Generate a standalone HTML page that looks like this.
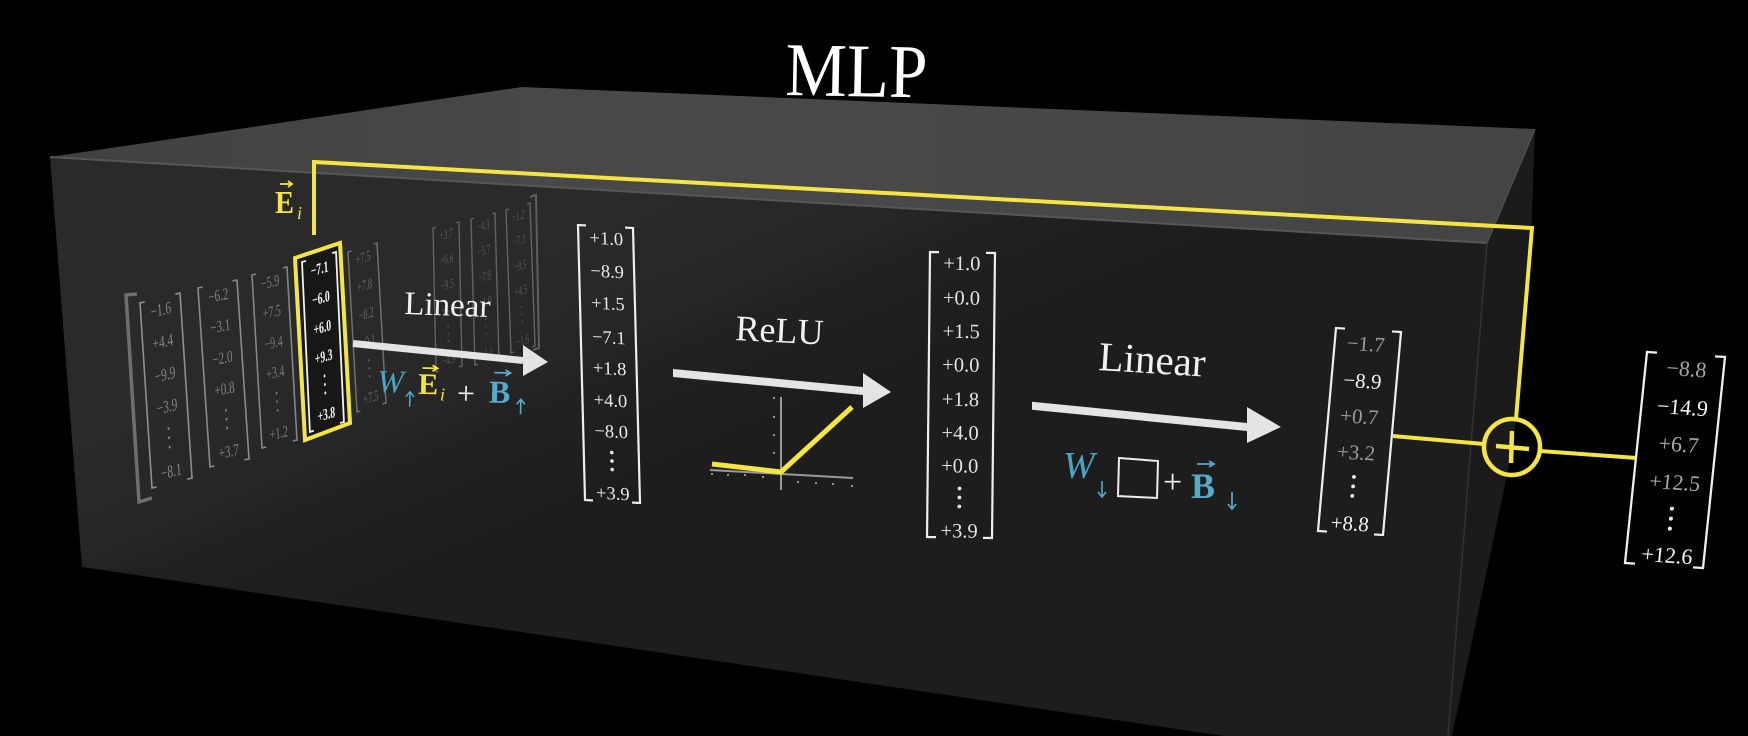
<!DOCTYPE html>
<html><head><meta charset="utf-8">
<style>
html,body{margin:0;padding:0;background:#000;}
svg{display:block;}
text{font-family:"Liberation Serif",serif;}
</style></head>
<body>
<svg width="1748" height="736" viewBox="0 0 1748 736" xmlns="http://www.w3.org/2000/svg">
<defs>
<linearGradient id="front" gradientUnits="userSpaceOnUse" x1="250" y1="360" x2="350" y2="600">
<stop offset="0" stop-color="#2a2a2a"/>
<stop offset="0.45" stop-color="#262626"/>
<stop offset="0.6" stop-color="#212121"/>
<stop offset="1" stop-color="#1d1d1d"/>
</linearGradient>
<linearGradient id="top" gradientUnits="userSpaceOnUse" x1="50" y1="157" x2="1535" y2="129">
<stop offset="0" stop-color="#414141"/>
<stop offset="0.4" stop-color="#494949"/>
<stop offset="1" stop-color="#444444"/>
</linearGradient>
</defs>
<rect width="1748" height="736" fill="#000"/>

<!-- Box -->
<polygon points="50,157 522,87 1535,129 1487,243" fill="url(#top)"/>
<polygon points="1487,243 1535,129 1531,240 1516,420 1507,475 1452,736 1448,736" fill="#1b1b1b"/>
<polygon points="50,157 1487,243 1448,736 1224,736 82,567" fill="url(#front)"/>
<line x1="50" y1="157" x2="1487" y2="243" stroke="#565656" stroke-width="2"/>
<line x1="1487" y1="243" x2="1448" y2="736" stroke="#333" stroke-width="1.5"/>
<line x1="1487" y1="243" x2="1535" y2="129" stroke="#4e4e4e" stroke-width="1.5"/>

<!-- Title -->
<text x="785" y="95" font-size="76" fill="#fff" textLength="142" lengthAdjust="spacingAndGlyphs" transform="rotate(1 785 95)">MLP</text>

<!-- Outer matrix brackets -->
<path d="M137,294 L126,295 L139,502 L152,498" fill="none" stroke="#6e6e6e" stroke-width="3.5"/>
<path d="M530,197 L536,195 L539,348 L533,350" fill="none" stroke="#5e5e5e" stroke-width="2"/>

<!-- col1 -->
<g transform="matrix(0.667,-0.1667,0.0667,1.028,140,303)" fill="#858585" font-size="17" text-anchor="middle">
<path d="M7,0H0V180H7M53,0H60V180H53" fill="none" stroke="#909090" stroke-width="1.6" vector-effect="non-scaling-stroke"/>
<text x="30" y="17">−1.6</text><text x="30" y="48">+4.4</text><text x="30" y="80">−9.9</text><text x="30" y="111">−3.9</text>
<circle cx="30" cy="127" r="1.5"/><circle cx="30" cy="136" r="1.5"/><circle cx="30" cy="145" r="1.5"/>
<text x="30" y="174">−8.1</text>
</g>
<!-- col2 -->
<g transform="matrix(0.65,-0.1333,0.0667,0.994,198,288)" fill="#808080" font-size="17" text-anchor="middle">
<path d="M7,0H0V180H7M53,0H60V180H53" fill="none" stroke="#8a8a8a" stroke-width="1.6" vector-effect="non-scaling-stroke"/>
<text x="30" y="17">−6.2</text><text x="30" y="48">−3.1</text><text x="30" y="80">−2.0</text><text x="30" y="111">+0.8</text>
<circle cx="30" cy="127" r="1.5"/><circle cx="30" cy="136" r="1.5"/><circle cx="30" cy="145" r="1.5"/>
<text x="30" y="174">+3.7</text>
</g>
<!-- col3 -->
<g transform="matrix(0.583,-0.1333,0.0556,0.961,252,275)" fill="#7a7a7a" font-size="17" text-anchor="middle">
<path d="M7,0H0V180H7M53,0H60V180H53" fill="none" stroke="#858585" stroke-width="1.6" vector-effect="non-scaling-stroke"/>
<text x="30" y="17">−5.9</text><text x="30" y="48">+7.5</text><text x="30" y="80">−9.4</text><text x="30" y="111">+3.4</text>
<circle cx="30" cy="127" r="1.5"/><circle cx="30" cy="136" r="1.5"/><circle cx="30" cy="145" r="1.5"/>
<text x="30" y="174">+1.2</text>
</g>
<!-- col4 highlighted -->
<polygon points="295,258 340,243 350,423 305,440" fill="#171717" stroke="#f4e545" stroke-width="4"/>
<g transform="matrix(0.567,-0.167,0.044,0.944,302,262)" fill="#f4f4f4" font-size="17" font-weight="bold" text-anchor="middle">
<path d="M7,0H0V180H7M53,0H60V180H53" fill="none" stroke="#f0f0f0" stroke-width="1.8" vector-effect="non-scaling-stroke"/>
<text x="30" y="18">−7.1</text><text x="30" y="49">−6.0</text><text x="30" y="80">+6.0</text><text x="30" y="111">+9.3</text>
<circle cx="30" cy="126" r="1.6"/><circle cx="30" cy="135" r="1.6"/><circle cx="30" cy="144" r="1.6"/>
<text x="30" y="172">+3.8</text>
</g>
<!-- col5 -->
<g transform="matrix(0.483,-0.15,0.05,0.889,348,252)" fill="#666" font-size="17" text-anchor="middle">
<path d="M7,0H0V180H7M53,0H60V180H53" fill="none" stroke="#6e6e6e" stroke-width="1.5" vector-effect="non-scaling-stroke"/>
<text x="30" y="17">+7.5</text><text x="30" y="48">+7.8</text><text x="30" y="80">−8.2</text><text x="30" y="111">−0.1</text>
<circle cx="30" cy="127" r="1.5"/><circle cx="30" cy="136" r="1.5"/><circle cx="30" cy="145" r="1.5"/>
<text x="30" y="174">+7.5</text>
</g>
<!-- col6 -->
<g transform="matrix(0.433,-0.1,0.0167,0.8,433,228)" fill="#5a5a5a" font-size="17" text-anchor="middle">
<path d="M7,0H0V180H7M53,0H60V180H53" fill="none" stroke="#626262" stroke-width="1.4" vector-effect="non-scaling-stroke"/>
<text x="30" y="17">+3.7</text><text x="30" y="48">+6.6</text><text x="30" y="80">−9.5</text><text x="30" y="111">+4.0</text>
<circle cx="30" cy="127" r="1.5"/><circle cx="30" cy="136" r="1.5"/><circle cx="30" cy="145" r="1.5"/>
<text x="30" y="174">−4.9</text>
</g>
<!-- col7 -->
<g transform="matrix(0.4,-0.1,0.022,0.811,471,219)" fill="#5a5a5a" font-size="17" text-anchor="middle">
<path d="M7,0H0V180H7M53,0H60V180H53" fill="none" stroke="#626262" stroke-width="1.4" vector-effect="non-scaling-stroke"/>
<text x="30" y="17">−4.3</text><text x="30" y="48">−5.7</text><text x="30" y="80">−7.9</text><text x="30" y="111">+1.0</text>
<circle cx="30" cy="127" r="1.5"/><circle cx="30" cy="136" r="1.5"/><circle cx="30" cy="145" r="1.5"/>
<text x="30" y="174">−1.1</text>
</g>
<!-- col8 -->
<g transform="matrix(0.4,-0.1167,0.0278,0.794,506,210)" fill="#5a5a5a" font-size="17" text-anchor="middle">
<path d="M7,0H0V180H7M53,0H60V180H53" fill="none" stroke="#626262" stroke-width="1.4" vector-effect="non-scaling-stroke"/>
<text x="30" y="17">−1.2</text><text x="30" y="48">−7.3</text><text x="30" y="80">−9.5</text><text x="30" y="111">+4.5</text>
<circle cx="30" cy="127" r="1.5"/><circle cx="30" cy="136" r="1.5"/><circle cx="30" cy="145" r="1.5"/>
<text x="30" y="174">−1.6</text>
</g>

<!-- Yellow residual connector -->
<polyline points="314,235 314,162 1532,228 1516,419" fill="none" stroke="#f4e545" stroke-width="4" stroke-linejoin="miter"/>
<text x="275" y="213" font-size="32" font-weight="bold" fill="#f4e545" textLength="19" lengthAdjust="spacingAndGlyphs">E</text>
<path d="M280,184 H291 M288,181 L292,184 L288,187" stroke="#f4e545" stroke-width="1.8" fill="none"/>
<text x="297" y="219" font-size="18" font-style="italic" fill="#f4e545">i</text>

<!-- Linear 1 -->
<text x="404" y="314" font-size="33" fill="#f2f2f2" transform="rotate(2 404 314)">Linear</text>
<polygon points="353.4,340 523.4,357 522.6,364 352.6,347" fill="#e4e4e4"/>
<polygon points="523,345 548,362 523,376" fill="#e4e4e4"/>
<g transform="rotate(1.3 377 392)">
<text x="377" y="392" font-size="32" font-style="italic" fill="#4fa3c3">W</text>
<path d="M410,406 V392 M406,396 L410,391 L414,396" stroke="#4fa3c3" stroke-width="1.6" fill="none"/>
<text x="418" y="393" font-size="30" font-weight="bold" fill="#f4e545">E</text>
<path d="M422,367 H436 M432,364 L437,367 L432,370" stroke="#f4e545" stroke-width="1.8" fill="none"/>
<text x="440" y="399" font-size="18" font-style="italic" fill="#f4e545">i</text>
<text x="457" y="402" font-size="32" fill="#f2f2f2">+</text>
<text x="489" y="400" font-size="32" font-weight="bold" fill="#58aacb">B</text>
<path d="M494,370 H509 M505,367 L510,370 L505,373" stroke="#58aacb" stroke-width="1.8" fill="none"/>
<path d="M521,411 V397 M517,401 L521,396 L525,401" stroke="#58aacb" stroke-width="1.6" fill="none"/>
</g>

<!-- Vector 2 -->
<g transform="matrix(1,0.0545,0.0255,1,578,225)" fill="#e8e8e8" font-size="18.5" text-anchor="middle">
<path d="M8,0H0V275H8M47,0H55V275H47" fill="none" stroke="#eee" stroke-width="2.2"/>
<text x="28" y="18">+1.0</text><text x="28" y="51">−8.9</text><text x="28" y="83">+1.5</text><text x="28" y="117">−7.1</text>
<text x="28" y="148">+1.8</text><text x="28" y="180">+4.0</text><text x="28" y="211">−8.0</text>
<circle cx="28" cy="226" r="1.8"/><circle cx="28" cy="234.5" r="1.8"/><circle cx="28" cy="243" r="1.8"/>
<text x="28" y="273">+3.9</text>
</g>

<!-- ReLU -->
<text x="735" y="340" font-size="36" fill="#f2f2f2" transform="rotate(3 735 340)">ReLU</text>
<polygon points="673,369 863,387 863,395 673,377" fill="#e4e4e4"/>
<polygon points="863,373 891,392 863,408" fill="#e4e4e4"/>
<line x1="781" y1="397" x2="781" y2="490" stroke="#9a9a9a" stroke-width="2"/>
<line x1="710" y1="470" x2="853" y2="478" stroke="#9a9a9a" stroke-width="2"/>
<g fill="#bbb">
<circle cx="712" cy="474" r="1"/><circle cx="728" cy="475" r="1"/><circle cx="745" cy="475" r="1"/><circle cx="763" cy="477" r="1"/>
<circle cx="798" cy="482" r="1"/><circle cx="816" cy="483" r="1"/><circle cx="833" cy="484" r="1"/><circle cx="852" cy="486" r="1"/>
<circle cx="774" cy="398" r="1"/><circle cx="774" cy="417" r="1"/><circle cx="774" cy="435" r="1"/><circle cx="774" cy="453" r="1"/>
</g>
<polyline points="712,464 781,472 852,407" fill="none" stroke="#f4e545" stroke-width="5"/>

<!-- Vector 3 -->
<g transform="matrix(1,0.0154,-0.0105,1,930,252)" fill="#e4e4e4" font-size="20.5" text-anchor="middle">
<path d="M9,0H0V285H9M56,0H65V285H56" fill="none" stroke="#eee" stroke-width="2.2"/>
<text x="32" y="17.5">+1.0</text><text x="32" y="52">+0.0</text><text x="32" y="85.5">+1.5</text><text x="32" y="119">+0.0</text>
<text x="32" y="153.5">+1.8</text><text x="32" y="187">+4.0</text><text x="32" y="220">+0.0</text>
<circle cx="32" cy="236" r="1.9"/><circle cx="32" cy="245" r="1.9"/><circle cx="32" cy="254" r="1.9"/>
<text x="32" y="285">+3.9</text>
</g>

<!-- Linear 2 -->
<text x="1098" y="370" font-size="41" fill="#f2f2f2" transform="rotate(3.5 1098 370)">Linear</text>
<polygon points="1032,401.7 1247,423 1247,431 1032,409.7" fill="#e4e4e4"/>
<polygon points="1247,407 1281,427 1247,443" fill="#e4e4e4"/>
<text x="1063" y="478" font-size="38" font-style="italic" fill="#4fa3c3">W</text>
<path d="M1102,481 V496 M1098,492 L1102,497 L1106,492" stroke="#4fa3c3" stroke-width="1.7" fill="none"/>
<path d="M1119,458 L1158,461 L1157,498 L1118,496 Z" fill="none" stroke="#eee" stroke-width="2"/>
<text x="1163" y="493" font-size="34" fill="#f2f2f2">+</text>
<text x="1191" y="498" font-size="36" font-weight="bold" fill="#58aacb">B</text>
<path d="M1197,464 H1213 M1209,461 L1214,464 L1209,467" stroke="#58aacb" stroke-width="1.8" fill="none"/>
<path d="M1232,492 V508 M1228,504 L1232,509 L1236,504" stroke="#58aacb" stroke-width="1.7" fill="none"/>

<!-- Vector 4 -->
<g transform="matrix(1,0.0615,-0.0887,1,1336,328)" font-size="21" text-anchor="middle">
<path d="M9,0H0V203H9M56,0H65V203H56" fill="none" stroke="#eee" stroke-width="2.2"/>
<text x="31" y="21" fill="#9a9a9a">−1.7</text>
<text x="31" y="58" fill="#f2f2f2">−8.9</text>
<text x="31" y="93.5" fill="#9a9a9a">+0.7</text>
<text x="31" y="129.5" fill="#9a9a9a">+3.2</text>
<g fill="#eee"><circle cx="31" cy="147" r="1.9"/><circle cx="31" cy="156.5" r="1.9"/><circle cx="31" cy="166" r="1.9"/></g>
<text x="31" y="200.5" fill="#f2f2f2">+8.8</text>
</g>

<!-- sum -->
<line x1="1393" y1="436" x2="1484" y2="444" stroke="#f4e545" stroke-width="4"/>
<line x1="1540" y1="451" x2="1637" y2="458" stroke="#f4e545" stroke-width="4"/>
<circle cx="1512" cy="447" r="28" fill="none" stroke="#f4e545" stroke-width="4.5"/>
<path d="M1496,446 L1529,449 M1512,431 L1511,463" stroke="#f4e545" stroke-width="4.5" fill="none"/>

<!-- Output vector -->
<g transform="matrix(1,0.0641,-0.1043,1,1647,352)" font-size="22" text-anchor="middle">
<path d="M10,0H0V211H10M68,0H78V211H68" fill="none" stroke="#eee" stroke-width="2.3"/>
<text x="41" y="21.5" fill="#a8a8a8">−8.8</text>
<text x="41" y="60" fill="#f4f4f4">−14.9</text>
<text x="41" y="97" fill="#a8a8a8">+6.7</text>
<text x="41" y="135" fill="#a8a8a8">+12.5</text>
<g fill="#eee"><circle cx="41" cy="154" r="2"/><circle cx="41" cy="164" r="2"/><circle cx="41" cy="174" r="2"/></g>
<text x="41" y="208" fill="#f4f4f4">+12.6</text>
</g>
</svg>
</body>
</html>
